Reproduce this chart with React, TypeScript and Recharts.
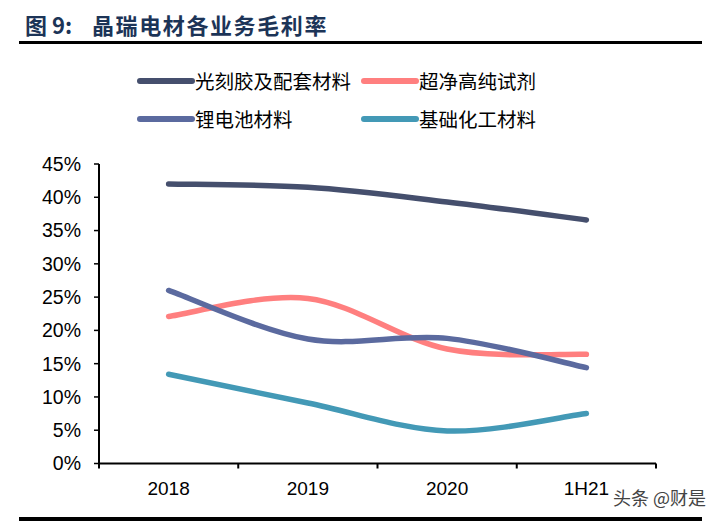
import React from 'react';
import { LineChart, Line, XAxis, YAxis } from 'recharts';

const categories = ['2018', '2019', '2020', '1H21'];
const photoresist = [42.0, 41.5, 39.3, 36.6];
const ultraPure = [22.1, 24.8, 17.2, 16.4];
const lithium = [26.0, 18.7, 18.8, 14.4];
const chemical = [13.4, 9.1, 4.9, 7.5];
const yTicks = [0, 5, 10, 15, 20, 25, 30, 35, 40, 45];
const xTicks = [-0.5, 0, 0.5, 1, 1.5, 2, 2.5, 3, 3.5];

const seriesNames = ['光刻胶及配套材料', '超净高纯试剂', '锂电池材料', '基础化工材料'];
const seriesKeys = ['photoresist', 'ultraPure', 'lithium', 'chemical'];
const seriesColors = ['#454f6d', '#ff7f7f', '#5b6a9f', '#4399b6'];

const data = categories.map((c, i) => ({
  idx: i,
  name: c,
  photoresist: photoresist[i],
  ultraPure: ultraPure[i],
  lithium: lithium[i],
  chemical: chemical[i],
}));

// Catmull-Rom style smoothing (like Excel smoothed lines)
function smoothCurve(context: any) {
  let pts: number[][] = [];
  return {
    areaStart() {},
    areaEnd() {},
    lineStart() {
      pts = [];
    },
    point(x: number, y: number) {
      pts.push([+x, +y]);
    },
    lineEnd() {
      const n = pts.length;
      if (n === 0) return;
      context.moveTo(pts[0][0], pts[0][1]);
      if (n === 1) return;
      for (let i = 0; i < n - 1; i++) {
        const p0 = pts[Math.max(0, i - 1)];
        const p1 = pts[i];
        const p2 = pts[i + 1];
        const p3 = pts[Math.min(n - 1, i + 2)];
        const c1x = p1[0] + (p2[0] - p0[0]) / 6;
        const c1y = p1[1] + (p2[1] - p0[1]) / 6;
        const c2x = p2[0] - (p3[0] - p1[0]) / 6;
        const c2y = p2[1] - (p3[1] - p1[1]) / 6;
        context.bezierCurveTo(c1x, c1y, c2x, c2y, p2[0], p2[1]);
      }
    },
  };
}

const FONT = '"Liberation Sans", Arial, sans-serif';
const CJK = '"Noto Sans CJK SC", "Noto Sans", sans-serif';

const XTick = (props: any) => {
  const { x, y, payload } = props;
  const v = payload.value;
  if (Number.isInteger(v)) {
    return (
      <text x={x} y={y + 26} textAnchor="middle" fontSize={19} fontFamily={FONT} fill="#000">
        {categories[v]}
      </text>
    );
  }
  return <line x1={x} x2={x} y1={y - 5} y2={y} stroke="#000" strokeWidth={2} />;
};

const legendPos = [
  { left: 137, top: 81 },
  { left: 361, top: 81 },
  { left: 137, top: 119 },
  { left: 361, top: 119 },
];

export default function App() {
  const titleStyle: React.CSSProperties = {
    position: 'absolute',
    top: 7,
    fontFamily: CJK,
    fontWeight: 700,
    fontSize: 22,
    color: '#1c3457',
    lineHeight: '34px',
    whiteSpace: 'nowrap',
  };
  return (
    <div
      style={{
        position: 'absolute',
        left: 0,
        top: 0,
        width: 724,
        height: 521,
        background: '#fff',
        overflow: 'hidden',
      }}
    >
      <div style={{ ...titleStyle, left: 25 }}>图 9:</div>
      <div style={{ ...titleStyle, left: 92, letterSpacing: 1.6 }}>晶瑞电材各业务毛利率</div>
      <div style={{ position: 'absolute', left: 19, top: 41, width: 683, height: 3, background: '#000' }} />
      <div style={{ position: 'absolute', left: 19, top: 517, width: 683, height: 4, background: '#000' }} />

      {seriesNames.map((name, i) => (
        <div
          key={name}
          style={{
            position: 'absolute',
            left: legendPos[i].left,
            top: legendPos[i].top - 15,
            height: 30,
            display: 'flex',
            alignItems: 'center',
            whiteSpace: 'nowrap',
          }}
        >
          <svg width={58} height={30} style={{ display: 'block' }}>
            <line x1={3} x2={55} y1={15} y2={15} stroke={seriesColors[i]} strokeWidth={6} strokeLinecap="round" />
          </svg>
          <span style={{ fontFamily: CJK, fontSize: 19.5, color: '#000', lineHeight: '30px' }}>{name}</span>
        </div>
      ))}

      <div
        style={{
          position: 'absolute',
          left: 613,
          top: 484,
          fontFamily: CJK,
          fontSize: 18,
          color: '#444',
          whiteSpace: 'nowrap',
          lineHeight: '26px',
        }}
      >
        头条 @财是
      </div>

      <div style={{ position: 'absolute', left: 0, top: 0 }}>
        <LineChart
          width={724}
          height={521}
          data={data}
          margin={{ top: 164, right: 68, bottom: 17.5, left: 39 }}
        >
          <XAxis
            dataKey="idx"
            type="number"
            domain={[-0.5, 3.5]}
            ticks={xTicks}
            interval={0}
            tickLine={false}
            tickSize={5}
            tickMargin={0}
            height={40}
            axisLine={{ stroke: '#000', strokeWidth: 2 }}
            tick={<XTick />}
            allowDecimals
          />
          <YAxis
            type="number"
            domain={[0, 45]}
            ticks={yTicks}
            interval={0}
            width={60}
            tickSize={5}
            tickMargin={13}
            axisLine={{ stroke: '#000', strokeWidth: 2 }}
            tickLine={{ stroke: '#000', strokeWidth: 1.5 }}
            tick={{ fontSize: 19.5, fontFamily: FONT, fill: '#000' }}
            tickFormatter={(v: number) => `${v}%`}
          />
          {seriesKeys.map((k, i) => (
            <Line
              key={k}
              dataKey={k}
              name={seriesNames[i]}
              type={smoothCurve as any}
              stroke={seriesColors[i]}
              strokeWidth={5.5}
              strokeLinecap="round"
              dot={false}
              activeDot={false}
              isAnimationActive={false}
            />
          ))}
        </LineChart>
      </div>
    </div>
  );
}
